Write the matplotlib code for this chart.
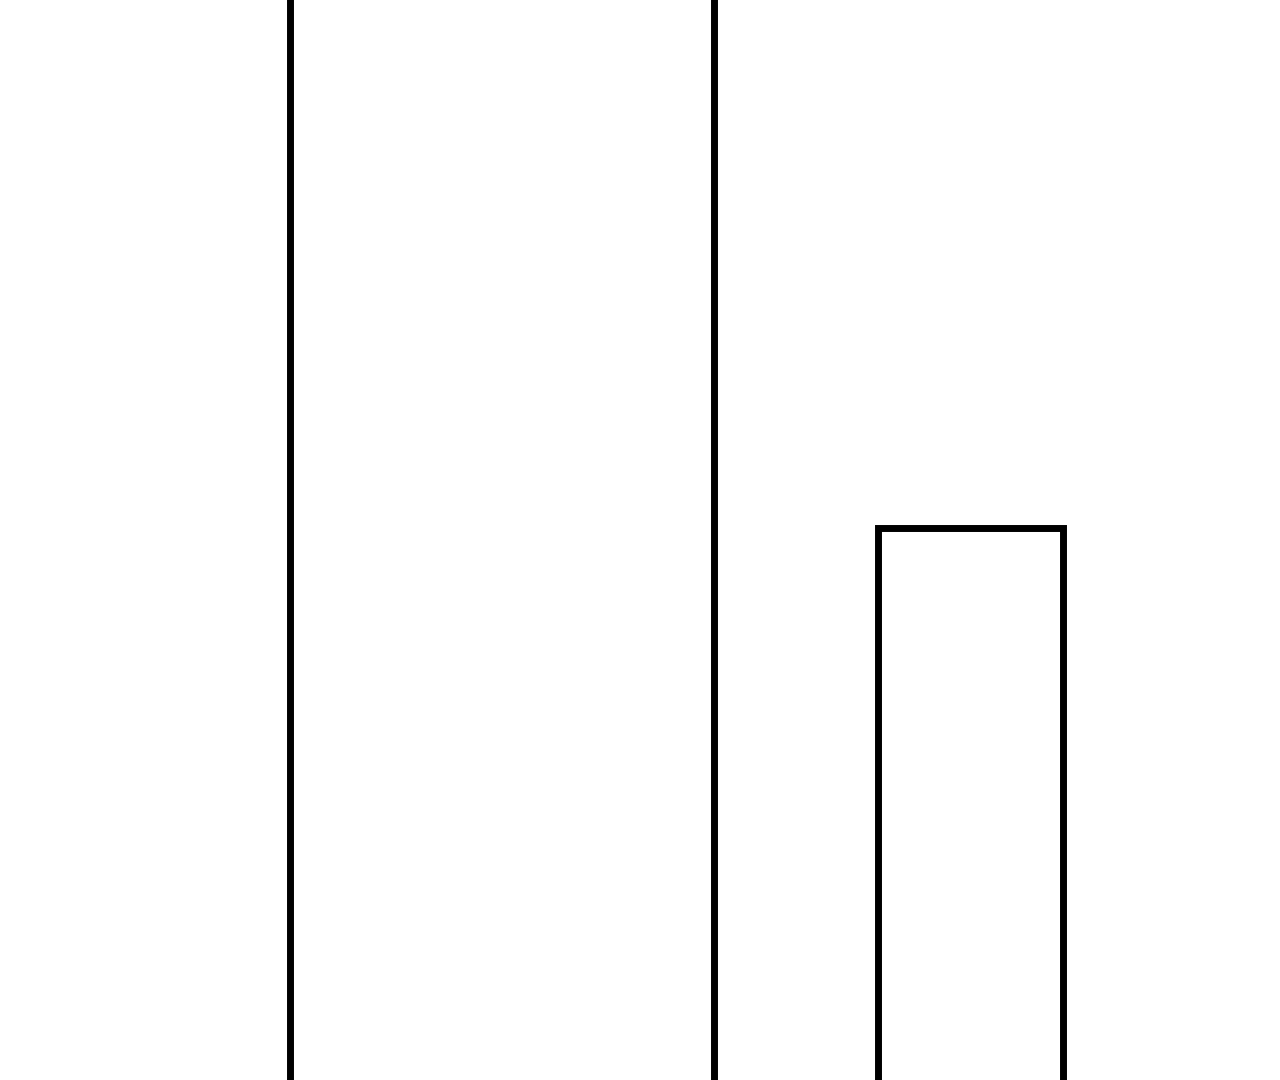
import numpy as np
from matplotlib import pyplot as plt

# bar data
categories = ['A', 'B']
centers    = [5.015, 9.705]
widths     = [4.24, 1.85]
values     = [14.0, 6.52]

fig = plt.figure(figsize=(12.8, 10.8), dpi=100)
ax  = fig.add_axes([0, 0, 1, 1])

ax.bar(centers, values, width=widths, bottom=0, facecolor='none',
       edgecolor='black', linewidth=5, joinstyle='miter')

ax.set_xlim(0, 12.8)
ax.set_ylim(1, 11.8)
ax.axis('off')

plt.savefig('out.png', dpi=100)
plt.close()
